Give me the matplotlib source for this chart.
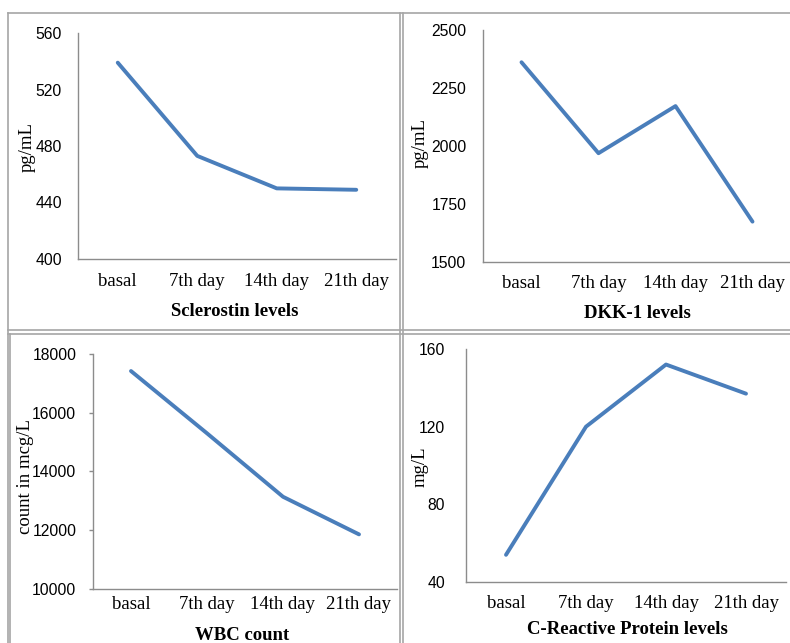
import matplotlib.pyplot as plt
from matplotlib.lines import Line2D

W, H = 790, 643

categories = ["basal", "7th day", "14th day", "21th day"]

sclerostin = [539, 473, 450, 449]
dkk1 = [2361, 1969, 2172, 1674]
wbc = [17420, 15300, 13140, 11860]
crp = [54, 120, 152, 137]

line_color = "#4a7ebb"
axis_color = "#8c8c8c"
border_color = "#a6a6a6"

fig = plt.figure(figsize=(W / 100, H / 100), dpi=100)


def px_axes(left, right, top, bottom):
    # axes rectangle given in pixel coordinates from the top-left corner
    return fig.add_axes([left / W, 1 - bottom / H, (right - left) / W, (bottom - top) / H])


def fig_text(x, y, s, **kw):
    fig.text(x / W, 1 - y / H, s, ha="center", va="center", **kw)


def panel(box, values, ylim, yticks, ylabel, ylabel_xy, title, title_xy,
          xpad, ypad, ticks=False):
    ax = px_axes(*box)
    x = list(range(len(categories)))
    ax.plot(x, values, color=line_color, lw=2.8, solid_capstyle="round",
            solid_joinstyle="round")
    ax.set_xlim(-0.5, 3.5)
    ax.set_ylim(*ylim)
    ax.set_yticks(yticks)
    ax.set_yticklabels([str(t) for t in yticks], family="Liberation Sans",
                       fontsize=11.3)
    ax.set_xticks(x)
    ax.set_xticklabels(categories, family="Liberation Serif", fontsize=13.5)
    for side in ("top", "right"):
        ax.spines[side].set_visible(False)
    for side in ("left", "bottom"):
        ax.spines[side].set_color(axis_color)
        ax.spines[side].set_linewidth(1.0)
    ax.tick_params(axis="x", length=0, pad=xpad)
    if ticks:
        ax.tick_params(axis="y", length=3, width=1, color=axis_color, pad=ypad)
    else:
        ax.tick_params(axis="y", length=0, pad=ypad)
    ax.patch.set_alpha(0)
    fig_text(*ylabel_xy, ylabel, rotation=90, family="Liberation Serif",
             fontsize=13.5)
    fig_text(*title_xy, title, family="Liberation Serif", fontsize=13.5,
             fontweight="bold")
    return ax


panel((78, 396, 33, 259), sclerostin, (400, 560), [400, 440, 480, 520, 560],
      "pg/mL", (27, 147), "Sclerostin levels", (235, 312), 10, 11.5)
panel((483, 791, 30, 262), dkk1, (1500, 2500), [1500, 1750, 2000, 2250, 2500],
      "pg/mL", (420, 143), "DKK-1 levels", (637, 313), 9.5, 12)
panel((93, 397, 354, 589), wbc, (10000, 18000),
      [10000, 12000, 14000, 16000, 18000],
      "count in mcg/L", (25, 476), "WBC count", (242, 635), 5, 9, ticks=True)
panel((466, 786, 349, 582), crp, (40, 160), [40, 80, 120, 160],
      "mg/L", (420, 467), "C-Reactive Protein levels", (627, 630), 9.5, 15)

# panel frames: outer edge plus doubled dividers between the four charts
def hline(y, x0, x1, lw=1.2):
    fig.add_artist(Line2D([x0 / W, x1 / W], [1 - y / H, 1 - y / H],
                          color=border_color, lw=lw))


def vline(x, y0, y1, lw=1.2):
    fig.add_artist(Line2D([x / W, x / W], [1 - y0 / H, 1 - y1 / H],
                          color=border_color, lw=lw))


hline(13, 8, 790)
vline(8, 13, 643)
vline(10, 334, 643)
vline(400, 13, 643)
vline(403, 13, 643)
hline(330, 8, 790)
hline(333.5, 8, 790)

fig.savefig("out.png", dpi=100)
